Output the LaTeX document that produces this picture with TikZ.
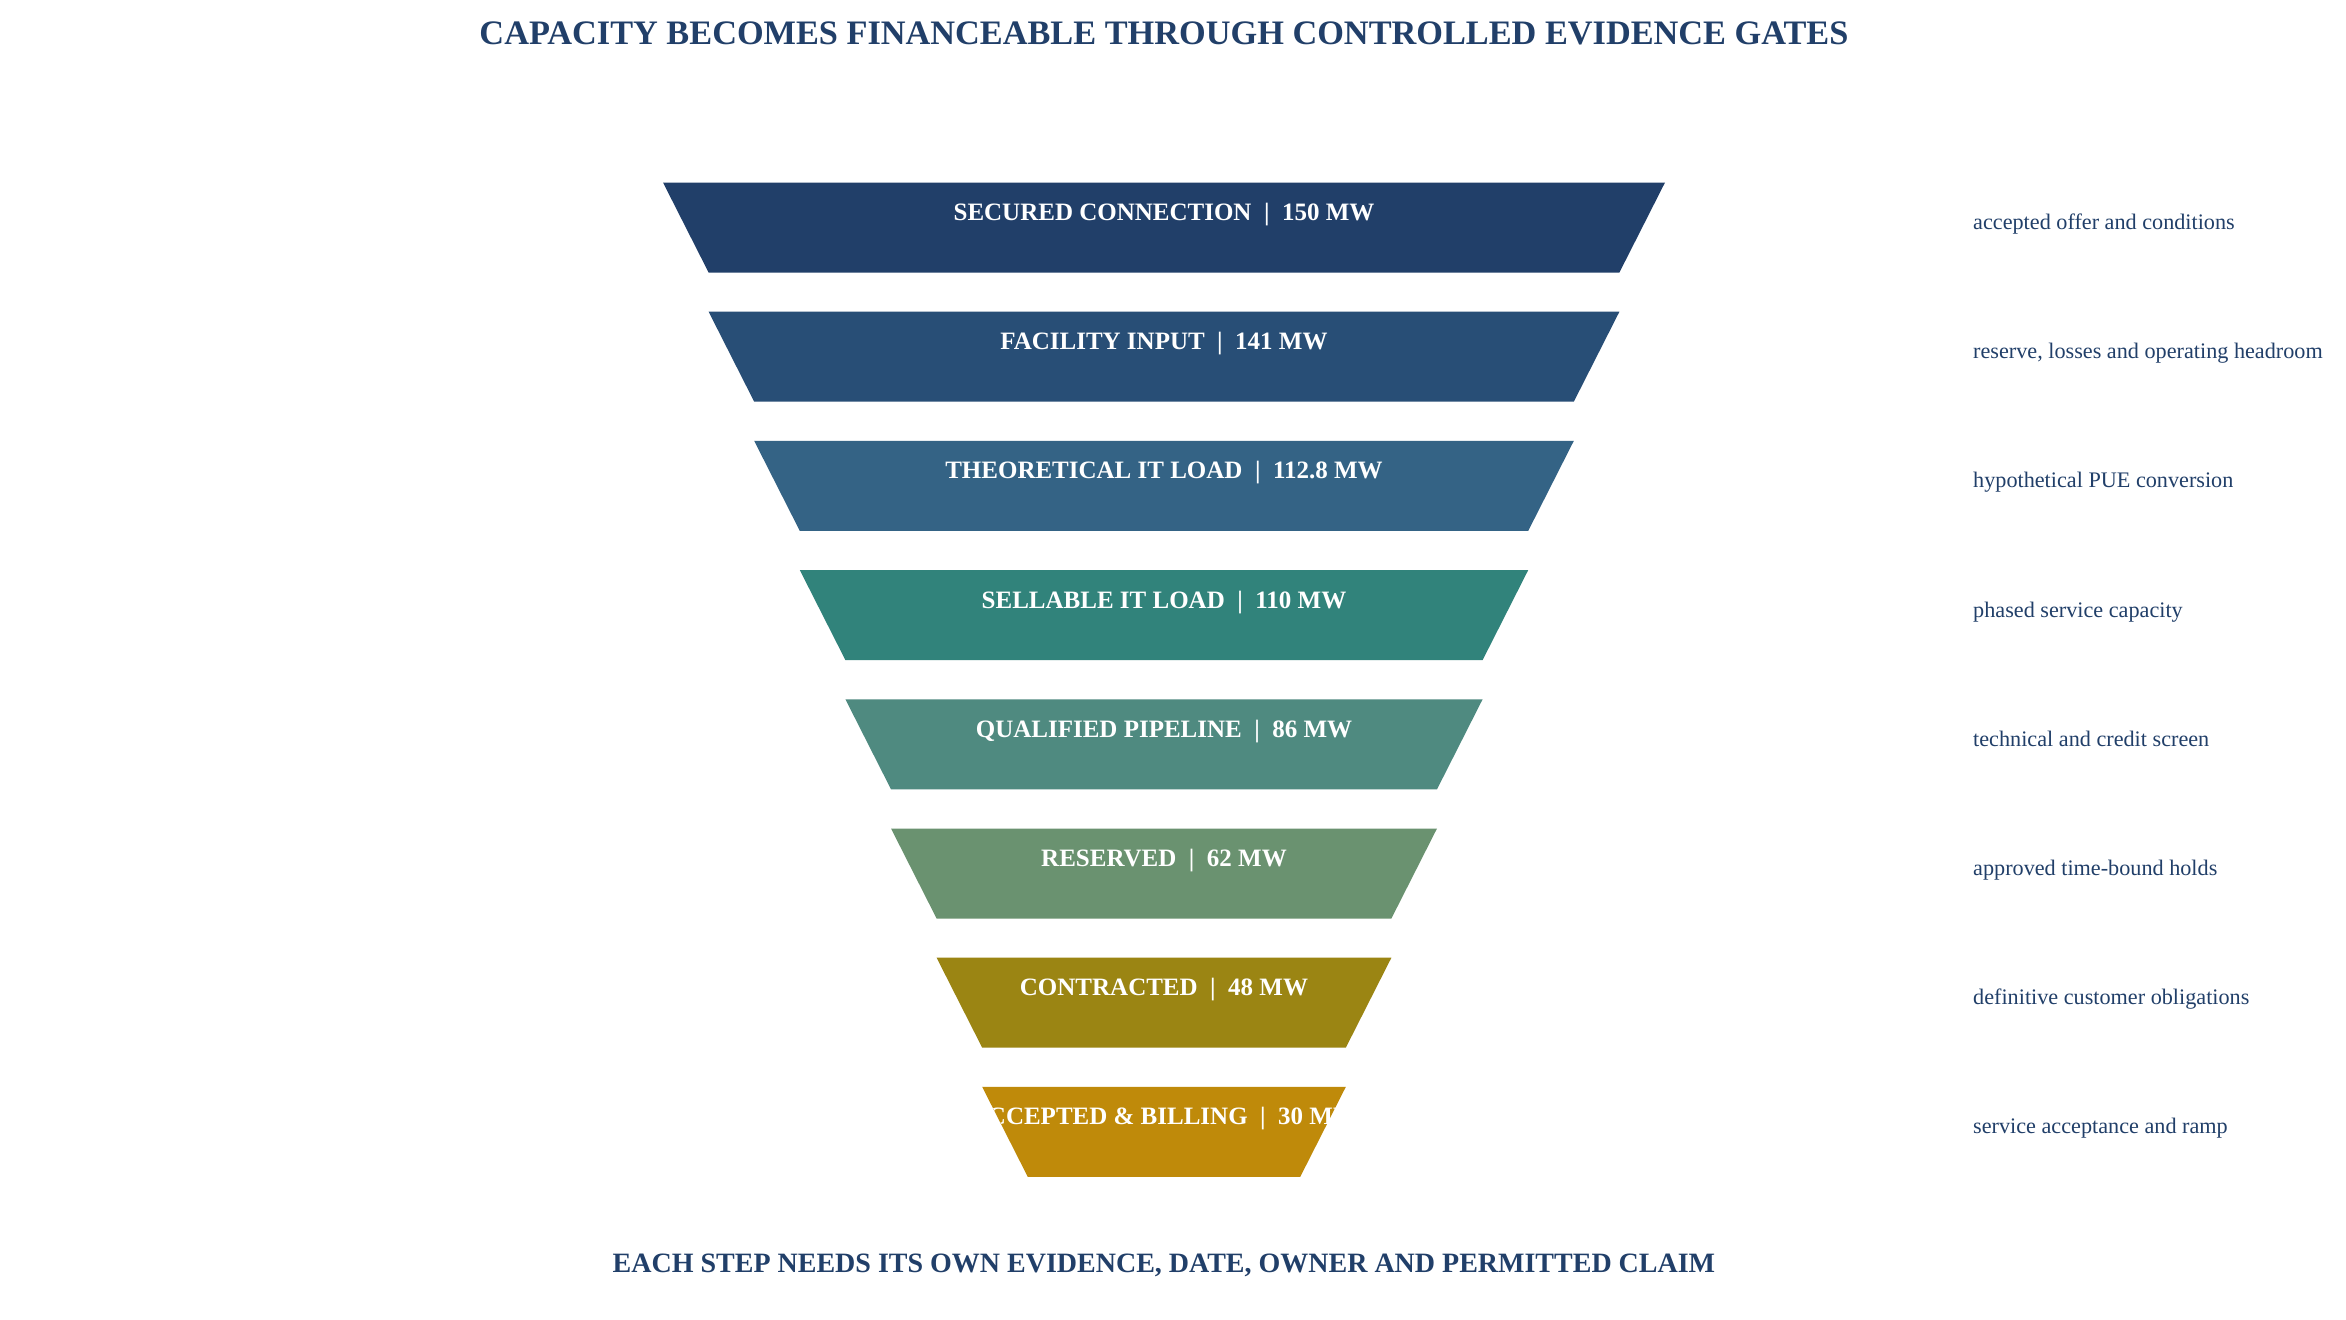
\documentclass[tikz,border=0pt]{standalone}
\usepackage{fontspec}
\setmainfont{Liberation Serif}
\definecolor{navy}{HTML}{213F69}
\definecolor{cA}{HTML}{213F69}
\definecolor{cB}{HTML}{284E76}
\definecolor{cC}{HTML}{346385}
\definecolor{cD}{HTML}{31837B}
\definecolor{cE}{HTML}{4F8A80}
\definecolor{cF}{HTML}{6A9270}
\definecolor{cG}{HTML}{9B8513}
\definecolor{cH}{HTML}{BF8A0A}
\tikzset{
  lbl/.style={text=white, font=\fontsize{25}{30}\selectfont\bfseries, anchor=base, inner sep=0pt},
  side/.style={text=navy, font=\fontsize{22.2}{26}\selectfont, anchor=base west, inner sep=0pt},
  ttl/.style={text=navy, font=\fontsize{34.3}{40}\selectfont\bfseries, anchor=base, inner sep=0pt},
  foot/.style={text=navy, font=\fontsize{28}{32}\selectfont\bfseries, anchor=base, inner sep=0pt},
}
\newcommand\fnrow[5]{%
  \pgfmathsetmacro\yt{182.5+129.2*#1}%
  \pgfmathsetmacro\yb{\yt+90}%
  \pgfmathsetmacro\wt{501-45.6*#1}%
  \pgfmathsetmacro\wb{\wt-45.6}%
  \fill[#2] (1164-\wt,\yt) -- (1164+\wt,\yt) -- (1164+\wb,\yb) -- (1164-\wb,\yb) -- cycle;
  \begin{scope}
    \clip (1164-\wt,\yt) -- (1164+\wt,\yt) -- (1164+\wb,\yb) -- (1164-\wb,\yb) -- cycle;
    \node[lbl] (#5) at (1164,\yt+38) {#3};
  \end{scope}
  \node[side] (#5s) at (1973,\yt+47) {#4};
}
\begin{document}
\begin{tikzpicture}[x=1pt,y=-1pt]
\useasboundingbox[fill=white] (0,0) rectangle (2346,1320);
\node[ttl] (title) at (1164,44.5) {CAPACITY BECOMES FINANCEABLE THROUGH CONTROLLED EVIDENCE GATES};
\fnrow{0}{cA}{SECURED CONNECTION~~|~~150 MW}{accepted offer and conditions}{r1}
\fnrow{1}{cB}{FACILITY INPUT~~|~~141 MW}{reserve, losses and operating headroom}{r2}
\fnrow{2}{cC}{THEORETICAL IT LOAD~~|~~112.8 MW}{hypothetical PUE conversion}{r3}
\fnrow{3}{cD}{SELLABLE IT LOAD~~|~~110 MW}{phased service capacity}{r4}
\fnrow{4}{cE}{QUALIFIED PIPELINE~~|~~86 MW}{technical and credit screen}{r5}
\fnrow{5}{cF}{RESERVED~~|~~62 MW}{approved time-bound holds}{r6}
\fnrow{6}{cG}{CONTRACTED~~|~~48 MW}{definitive customer obligations}{r7}
\fnrow{7}{cH}{ACCEPTED \& BILLING~~|~~30 MW}{service acceptance and ramp}{r8}
\node[foot] (footer) at (1164,1272) {EACH STEP NEEDS ITS OWN EVIDENCE, DATE, OWNER AND PERMITTED CLAIM};
\end{tikzpicture}
\end{document}
